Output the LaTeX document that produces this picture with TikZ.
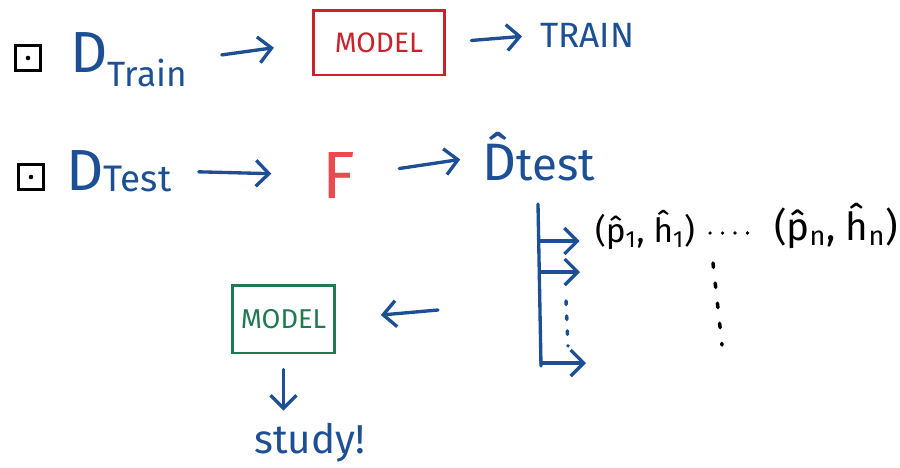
\documentclass[tikz,border=0pt]{standalone}
\usepackage{fontspec}
\setmainfont{Fira Sans}
\usetikzlibrary{arrows.meta}
\definecolor{inkblue}{HTML}{1D4F94}
\definecolor{inkred}{HTML}{C8232B}
\definecolor{inkpink}{HTML}{EA4A4E}
\definecolor{inkgreen}{HTML}{1F7A52}
\newcommand{\fs}[1]{\fontsize{#1}{#1}\selectfont}

\begin{document}
\begin{tikzpicture}[
  x=0.02cm,y=-0.02cm,
  >={Straight Barb[length=2.6mm,width=5.2mm]},
  flow/.style={->,draw=inkblue,line width=1.9pt,line cap=round,line join=round},
  ink/.style={inkblue,inner sep=0pt},
  modelbox/.style={draw,line width=1.7pt,minimum width=2.64cm,minimum height=1.3cm,inner sep=0pt},
  bullet/.style={draw,line width=1.6pt,minimum size=0.5cm,inner sep=0pt,
    path picture={\fill (path picture bounding box.center) circle (1.3pt);}},
  dots/.style={line width=2pt,line cap=round,dash pattern=on 2pt off 6.5pt}
]
\useasboundingbox (0,0) rectangle (900,467);

\node[bullet] (box1) at (28,58) {};
\node[bullet] (box2) at (31,177) {};

% training row
\node[ink,anchor=base west] (dtrain) at (70,72)
  {\fs{33}D\raisebox{-8.5pt}{\fs{20}Train}};
\node[modelbox,draw=inkred,text=inkred,font=\fs{16}] (modela) at (379,42.5) {MODEL};
\node[ink,anchor=base west,font=\fs{20}] (train) at (540,47) {TRAIN};

\draw[flow,shorten <=0.7cm,shorten >=0.76cm] (dtrain.east) -- (modela.west);
\draw[flow,shorten <=0.5cm,shorten >=0.36cm] (modela.east) -- (train.west);

% test row
\node[ink,anchor=base west] (dtest) at (66,190)
  {\fs{33}D\raisebox{-1pt}{\fs{21}Test}};
\node[text=inkpink,inner sep=0pt,font=\fs{38}] (fmap) at (339,175) {F};
\node[ink,anchor=base west] (dhat) at (482,180)
  {\fs{30}\^{D}\fs{26}test};

\draw[flow,shorten <=0.54cm,shorten >=1.02cm] (dtest.east) -- (fmap.west);
\draw[flow,shorten <=0.88cm,shorten >=0.44cm] (fmap.east) -- (dhat.west);

% predictions
\coordinate (trunktop) at (538,204);
\coordinate (trunkbot) at (541,366);
\coordinate (fork1) at (539,241);
\coordinate (fork2) at (540,272);
\coordinate (fork3) at (541,363);
\coordinate (tip2) at (580,272);
\coordinate (tip3) at (586,363);
\node[inner sep=0pt,font=\fs{19}] (pair1) at (645,230)
  {(\^{p}\textsubscript{1}, \^{h}\textsubscript{1})};
\node[inner sep=0pt,font=\fs{22}] (pairn) at (836,226)
  {(\^{p}\textsubscript{n}, \^{h}\textsubscript{n})};

\draw[flow,-] (trunktop) -- (trunkbot);
\draw[flow,shorten >=0.3cm] (fork1) -- (fork1 -| pair1.west);
\draw[flow] (fork2) -- (tip2);
\draw[flow] (fork3) -- (tip3);

\coordinate (dotsa) at (566,301);
\coordinate (dotsb) at (568,346);
\coordinate (hdotsa) at (710,233);
\coordinate (hdotsb) at (748,233);
\coordinate (vdotsa) at (713,263);
\coordinate (vdotsb) at (722,345);
\draw[dots,inkblue] (dotsa) -- (dotsb);
\draw[dots,dash pattern=on 0pt off 0.25cm] (hdotsa) -- (hdotsb);
\draw[dots,dash pattern=on 2.5pt off 9pt] (vdotsa) -- (vdotsb);

% second model
\node[modelbox,draw=inkgreen,text=inkgreen,font=\fs{15.5},minimum width=2.04cm,
  minimum height=1.36cm] (modelb) at (283.5,319) {MODEL};
\node[ink,font=\fs{23}] (study) at (310,443) {study!};
\coordinate (back) at (438,310);

\draw[flow,shorten >=0.9cm] (back) -- (modelb.east);
\draw[flow,shorten <=0.3cm,shorten >=0.25cm] (modelb.south) -- (modelb.south |- study.north);
\end{tikzpicture}
\end{document}
